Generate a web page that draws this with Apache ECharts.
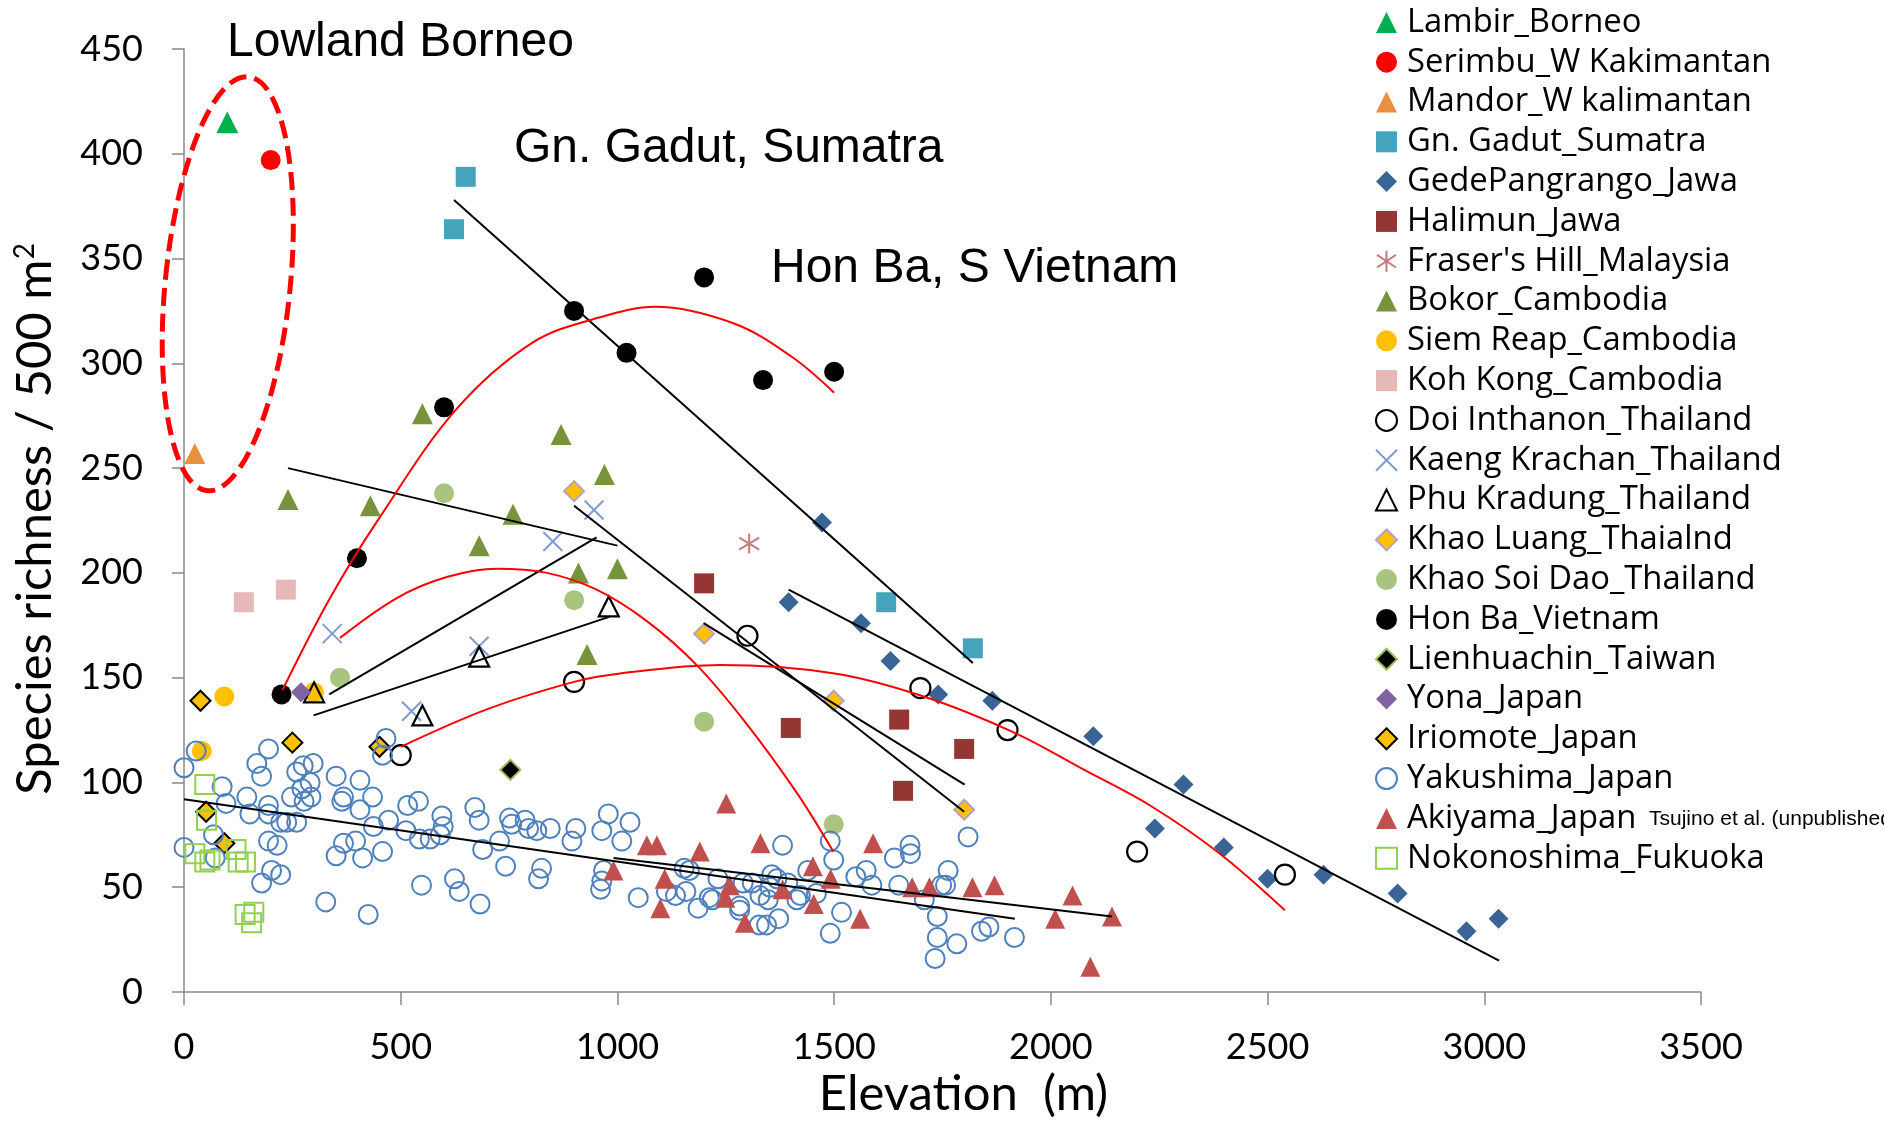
<!DOCTYPE html>
<html>
<head>
<meta charset="utf-8">
<script src="https://cdn.jsdelivr.net/npm/echarts@6/dist/echarts.min.js"></script>
<style>
  html, body { margin: 0; padding: 0; background: #ffffff; }
  #chart { width: 1884px; height: 1124px; }
</style>
</head>
<body>
<div id="chart"></div>
<script>
// Elevation (m) vs species richness per 500 m2, by study site
const lambirBorneo = [[100, 415]];
const serimbuKalimantan = [[200, 397]];
const mandorKalimantan = [[25, 257]];
const gnGadutSumatra = [[650, 389], [623, 364], [1620, 186], [1820, 164]];
const gedePangrangoJawa = [[1395, 186], [1472, 224], [1562, 176], [1630, 158], [1740, 142], [1865, 139], [2098, 122], [2240, 78], [2306, 99], [2399, 69], [2500, 54], [2629, 56], [2800, 47], [2959, 29], [3033, 35]];
const halimunJawa = [[1200, 195], [1400, 126], [1650, 130], [1659, 96], [1800, 116]];
const frasersHillMalaysia = [[1304, 214]];
const bokorCambodia = [[240, 235], [430, 232], [550, 276], [681, 213], [759, 228], [870, 266], [910, 200], [930, 161], [970, 247], [1000, 202]];
const siemReapCambodia = [[41, 115], [93, 141], [300, 143]];
const kohKongCambodia = [[138, 186], [235, 192]];
const doiInthanonThailand = [[500, 113], [900, 148], [1300, 170], [1699, 145], [1900, 125], [2199, 67], [2540, 56]];
const kaengKrachanThailand = [[342, 171], [525, 134], [681, 165], [851, 215], [946, 230]];
const phuKradungThailand = [[300, 143], [550, 132], [681, 160], [980, 184]];
const khaoLuangThailand = [[900, 239], [1200, 171], [1499, 139], [1800, 87]];
const khaoSoiDaoThailand = [[360, 150], [600, 238], [900, 187], [1200, 129], [1499, 80]];
const honBaVietnam = [[225, 142], [399, 207], [600, 279], [900, 325], [1021, 305], [1200, 341], [1336, 292], [1500, 296]];
const lienhuachinTaiwan = [[753, 106]];
const yonaJapan = [[270, 143]];
const iriomoteJapan = [[38, 139], [51, 86], [93, 71], [250, 119], [451, 117]];
const yakushimaJapan = [
  [0, 107], [28, 115], [88, 98], [97, 90], [0, 69], [68, 75], [72, 64], [145, 93], [168, 109], [195, 116],
  [179, 103], [152, 85], [195, 89], [195, 85], [223, 81], [237, 81], [260, 81], [248, 93], [260, 105], [275, 108],
  [298, 109], [291, 100], [272, 97], [293, 93], [277, 91], [195, 72], [215, 70], [202, 58], [223, 56], [179, 52],
  [327, 43], [351, 103], [368, 93], [364, 91], [406, 101], [435, 93], [406, 87], [437, 79], [472, 82], [351, 65],
  [368, 71], [396, 72], [412, 64], [458, 67], [425, 37], [466, 121], [458, 113], [516, 89], [541, 91], [512, 77],
  [543, 73], [568, 73], [595, 84], [598, 79], [591, 75], [548, 51], [624, 54], [635, 48], [671, 88], [681, 82],
  [689, 68], [683, 42], [728, 72], [742, 60], [751, 83], [756, 80], [787, 82], [795, 78], [814, 77], [845, 78],
  [825, 59], [818, 54], [904, 78], [895, 72], [964, 77], [979, 85], [968, 58], [964, 53], [961, 49], [1010, 72],
  [1029, 81], [1048, 45], [1154, 59], [1166, 58], [1113, 48], [1134, 46], [1158, 48], [1186, 40], [1212, 45], [1219, 44],
  [1232, 54], [1282, 41], [1282, 39], [1290, 52], [1311, 52], [1327, 32], [1344, 32], [1329, 46], [1348, 44], [1356, 56],
  [1368, 54], [1352, 50], [1372, 35], [1393, 52], [1414, 44], [1422, 46], [1439, 58], [1459, 47], [1381, 70], [1491, 72],
  [1499, 63], [1517, 38], [1491, 28], [1574, 58], [1550, 55], [1587, 51], [1639, 64], [1649, 51], [1675, 70], [1676, 66],
  [1763, 58], [1748, 51], [1757, 51], [1708, 44], [1738, 36], [1738, 26], [1733, 16], [1783, 23], [1840, 29], [1857, 31],
  [1916, 26], [1809, 74]
];
const akiyamaJapan = [[991, 58], [1068, 70], [1091, 70], [1099, 40], [1109, 54], [1190, 67], [1249, 45], [1251, 90], [1259, 51], [1294, 33], [1330, 71], [1381, 49], [1451, 60], [1453, 42], [1492, 54], [1560, 35], [1590, 71], [1680, 50], [1720, 50], [1819, 50], [1870, 51], [2010, 35], [2050, 46], [2091, 12], [2141, 36]];
const nokonoshimaFukuoka = [[48, 99], [52, 82], [25, 66], [48, 62], [60, 63], [120, 68], [125, 62], [142, 62], [141, 37], [161, 38], [156, 33]];

// Fitted trend lines (end points) and curves (points along each curve)
const trendGadut = [[623, 378], [1820, 157]];
const trendGede = [[1395, 192], [3034, 15]];
const trendBokor = [[240, 250], [1000, 213]];
const trendKaeng = [[335, 142], [952, 217]];
const trendPhu = [[299, 132], [981, 179]];
const trendKhaoLuang = [[900, 232], [1800, 86]];
const trendHalimun = [[1199, 176], [1801, 99]];
const trendYakushima = [[0, 92], [1917, 35]];
const trendAkiyama = [[991, 64], [2141, 36]];
const curveHonBa = [[227, 144], [337, 188], [450, 226], [628, 278], [805, 310], [960, 322], [1088, 327], [1269, 319], [1403, 303], [1500, 286]];
const curveKhaoSoiDao = [[360, 169], [491, 188], [606, 198], [722, 202], [837, 200], [952, 192], [1068, 177], [1183, 156], [1298, 128], [1414, 95], [1498, 67]];
const curveDoiInthanon = [[500, 117], [700, 135], [900, 148], [1006, 152], [1237, 156], [1501, 152], [1707, 141], [1913, 124], [2077, 106], [2229, 89], [2390, 66], [2540, 39]];

// Axis ticks
const xTicks = { min: 0, max: 3500, step: 500 };
const yTicks = { min: 0, max: 450, step: 50 };

// Dashed ring around the lowland Borneo plots (centre in data units)
const borneoRingCenter = [101, 338];

const ASTERISK = 'path://M10 0 L10 20 M1 4 L19 16 M19 4 L1 16';
const CROSS = 'path://M0 0 L20 20 M20 0 L0 20';
const NONE = 'rgba(0,0,0,0)';

function pts(name, data, symbol, size, fill, border, borderWidth) {
  return {
    type: 'scatter', name: name, data: data, symbol: symbol, symbolSize: size,
    silent: true, z: 2,
    itemStyle: { color: fill, borderColor: border || fill, borderWidth: borderWidth || 0, opacity: 1 }
  };
}
function trend(id, data, color, smooth) {
  return {
    type: 'line', id: id, data: data, showSymbol: false, symbol: 'none', silent: true, z: 3,
    smooth: smooth ? 0.35 : false,
    lineStyle: { color: color, width: 2 }
  };
}

const sites = [
  pts('Lambir_Borneo', lambirBorneo, 'triangle', 22, '#00B050'),
  pts('Serimbu_W Kakimantan', serimbuKalimantan, 'circle', 20, '#FF0000'),
  pts('Mandor_W kalimantan', mandorKalimantan, 'triangle', 21, '#E8903F'),
  pts('Gn. Gadut_Sumatra', gnGadutSumatra, 'rect', 20, '#46A3BC'),
  pts('GedePangrango_Jawa', gedePangrangoJawa, 'diamond', 20, '#3B6496'),
  pts('Halimun_Jawa', halimunJawa, 'rect', 20, '#943634'),
  pts("Fraser's Hill_Malaysia", frasersHillMalaysia, ASTERISK, 20, '#C77B7B', '#C77B7B', 2),
  pts('Bokor_Cambodia', bokorCambodia, 'triangle', 21, '#77933C'),
  pts('Siem Reap_Cambodia', siemReapCambodia, 'circle', 20, '#FFC000'),
  pts('Koh Kong_Cambodia', kohKongCambodia, 'rect', 20, '#E6B9B8'),
  pts('Doi Inthanon_Thailand', doiInthanonThailand, 'circle', 20, NONE, '#000000', 2.2),
  pts('Kaeng Krachan_Thailand', kaengKrachanThailand, CROSS, 19, '#7F9BD0', '#7F9BD0', 2),
  pts('Phu Kradung_Thailand', phuKradungThailand, 'triangle', 20, NONE, '#000000', 2.2),
  pts('Khao Luang_Thaialnd', khaoLuangThailand, 'diamond', 20, '#FFC000', '#B3A2C7', 2),
  pts('Khao Soi Dao_Thailand', khaoSoiDaoThailand, 'circle', 20, '#A9C47F'),
  pts('Hon Ba_Vietnam', honBaVietnam, 'circle', 20, '#000000'),
  pts('Lienhuachin_Taiwan', lienhuachinTaiwan, 'diamond', 20, '#000000', '#9BBB59', 2),
  pts('Yona_Japan', yonaJapan, 'diamond', 20, '#8064A2'),
  pts('Iriomote_Japan', iriomoteJapan, 'diamond', 20, '#FFC000', '#000000', 2),
  pts('Yakushima_Japan', yakushimaJapan, 'circle', 19, NONE, '#4F81BD', 2),
  pts('Akiyama_Japan', akiyamaJapan, 'triangle', 20, '#C0504D'),
  pts('Nokonoshima_Fukuoka', nokonoshimaFukuoka, 'rect', 19, NONE, '#92D050', 2)
];

const trends = [
  trend('tGadut', trendGadut, '#000000'),
  trend('tGede', trendGede, '#000000'),
  trend('tBokor', trendBokor, '#000000'),
  trend('tKaeng', trendKaeng, '#000000'),
  trend('tPhu', trendPhu, '#000000'),
  trend('tKhaoLuang', trendKhaoLuang, '#000000'),
  trend('tHalimun', trendHalimun, '#000000'),
  trend('tYakushima', trendYakushima, '#000000'),
  trend('tAkiyama', trendAkiyama, '#000000'),
  trend('cHonBa', curveHonBa, '#FF0000', true),
  trend('cKhaoSoiDao', curveKhaoSoiDao, '#FF0000', true),
  trend('cDoi', curveDoiInthanon, '#FF0000', true)
];

const axisGrey = '#898989';
const chart = echarts.init(document.getElementById('chart'), null, { renderer: 'canvas' });

chart.setOption({
  animation: false,
  backgroundColor: '#ffffff',
  grid: { left: 184, right: 183, top: 49, bottom: 131, containLabel: false },
  xAxis: {
    type: 'value', min: xTicks.min, max: xTicks.max, interval: xTicks.step,
    axisLine: { show: true, onZero: false, lineStyle: { color: axisGrey, width: 1.5 } },
    axisTick: { show: true, length: 13, lineStyle: { color: axisGrey, width: 1.5 } },
    axisLabel: { fontFamily: 'Lato', fontSize: 36, color: '#000', margin: 37, formatter: v => String(v) },
    splitLine: { show: false },
    name: 'Elevation  (m)', nameLocation: 'middle', nameGap: 78,
    nameTextStyle: { fontFamily: 'Lato', fontSize: 49, color: '#000', padding: [0, 0, 0, 42] }
  },
  yAxis: {
    type: 'value', min: yTicks.min, max: yTicks.max, interval: yTicks.step,
    axisLine: { show: true, onZero: false, lineStyle: { color: axisGrey, width: 1.5 } },
    axisTick: { show: true, length: 12, lineStyle: { color: axisGrey, width: 1.5 } },
    axisLabel: { fontFamily: 'Lato', fontSize: 36, color: '#000', margin: 41, formatter: v => String(v) },
    splitLine: { show: false }
  },
  legend: {
    orient: 'vertical', left: 1370, top: -2.5, itemGap: 0,
    itemWidth: 21, itemHeight: 21, selectedMode: false,
    textStyle: { fontFamily: '"Open Sans"', fontSize: 32.8, color: '#000', lineHeight: 39.8, padding: [0, 0, 0, 5] },
    data: sites.map(s => s.name)
  },
  series: sites.concat(trends)
});

const ringCenter = chart.convertToPixel({ gridIndex: 0 }, borneoRingCenter);

function label(id, text, x, y, font) {
  return {
    type: 'text', id: id, x: x, y: y, z: 20, silent: true,
    style: { text: text, font: font, fill: '#000', align: 'left', textAlign: 'left', verticalAlign: 'middle', textVerticalAlign: 'middle' }
  };
}

chart.setOption({
  graphic: [
    {
      type: 'ellipse', id: 'borneoRing', x: ringCenter[0], y: ringCenter[1], rotation: -0.0995, z: 10, silent: true,
      shape: { cx: 0, cy: 0, rx: 62.5, ry: 208 },
      style: { fill: 'none', stroke: '#FF0000', lineWidth: 5, lineDash: [18, 8] }
    },
    label('annBorneo', 'Lowland Borneo', 227, 43, '48px "Liberation Sans", Arial, sans-serif'),
    label('annGadut', 'Gn. Gadut, Sumatra', 514, 149, '48px "Liberation Sans", Arial, sans-serif'),
    label('annHonBa', 'Hon Ba, S Vietnam', 771, 269, '48px "Liberation Sans", Arial, sans-serif'),
    label('noteAkiyama', 'Tsujino et al. (unpublished)', 1649, 819, '21px "Liberation Sans", Arial, sans-serif'),
    {
      type: 'text', id: 'yTitle', x: 35, y: 519, rotation: Math.PI / 2, z: 20, silent: true,
      style: {
        text: '{a|Species richness / 500 m}{b|2}',
        fill: '#000', align: 'center', textAlign: 'center', verticalAlign: 'middle', textVerticalAlign: 'middle',
        rich: {
          a: { fontFamily: 'Lato', fontSize: 49, fill: '#000' },
          b: { fontFamily: 'Lato', fontSize: 28, fill: '#000', verticalAlign: 'top' }
        }
      }
    }
  ]
});
</script>
</body>
</html>
